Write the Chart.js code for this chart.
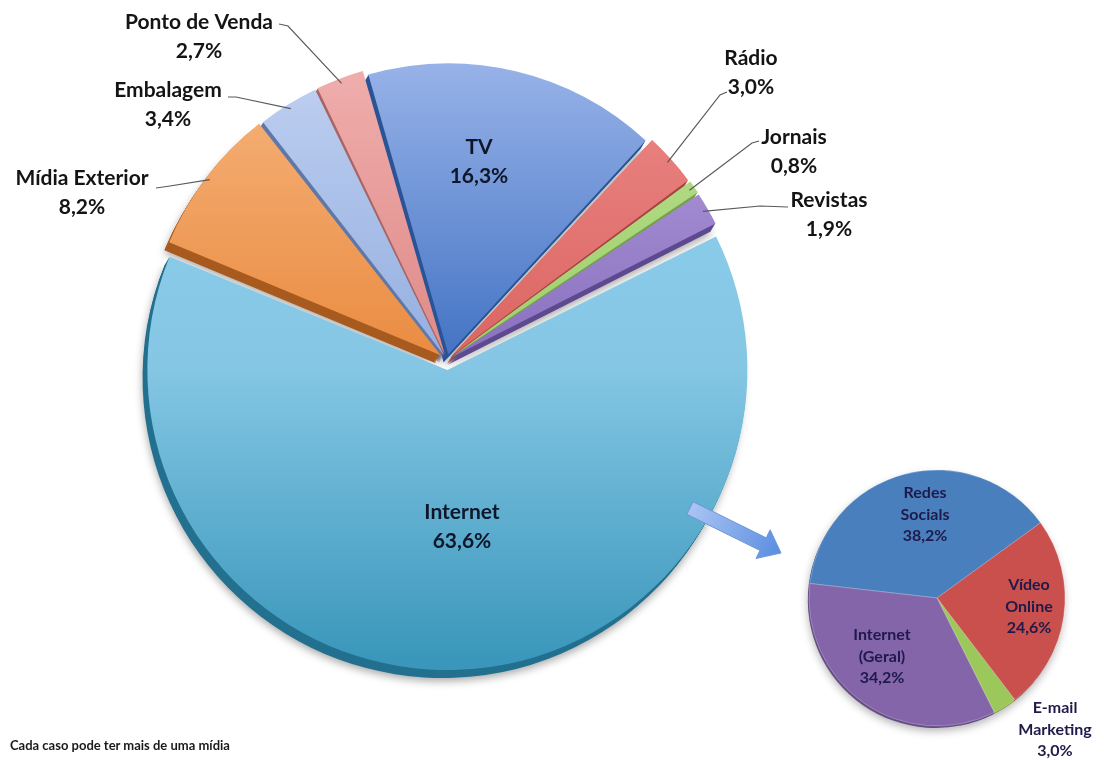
<!DOCTYPE html>
<html>
<head>
<meta charset="utf-8">
<script src="https://cdn.jsdelivr.net/npm/chart.js@4.4.0/dist/chart.umd.min.js"></script>
<style>
  body { margin: 0; background: #fff; }
  #wrap { position: relative; width: 1104px; height: 760px; overflow: hidden; background: #fff; }
  #mainChart { position: absolute; left: 0; top: 0; }
  #subChart { position: absolute; left: 780px; top: 440px; }
  #note { position: absolute; left: 10px; top: 737px; font: bold 13px Lato, sans-serif; color: #1a1a1a; }
</style>
</head>
<body>
<div id="wrap">
  <canvas id="mainChart" width="1104" height="760"></canvas>
  <canvas id="subChart" width="324" height="320"></canvas>
  <div id="note">Cada caso pode ter mais de uma mídia</div>
</div>
<script>
// data
const mainLabels = ["TV", "Rádio", "Jornais", "Revistas", "Internet", "Mídia Exterior", "Embalagem", "Ponto de Venda"];
const mainValues = [16.3, 3.0, 0.8, 1.9, 63.6, 8.2, 3.4, 2.7];
const netLabels = ["Redes Socials", "Vídeo Online", "E-mail Marketing", "Internet (Geral)"];
const netValues = [38.2, 24.6, 3.0, 34.2];

// look
const mainTop = ["#97b2e8", "#ec8987", "#b9e08f", "#b39fdc", "#8fd0ec", "#f6b47c", "#bfd0f1", "#efaeac"];
const mainMid = ["#4474c4", "#db6562", "#9fcf6c", "#8a70c0", "#84c6e4", "#ea8c42", "#95afe0", "#df8a88"];
const mainLow = ["#3f70c2", "#d65c59", "#9fcf6c", "#8066b8", "#3a97bb", "#e8853a", "#8ea9dc", "#d98280"];
const mainSide = ["#2b5496", "#a84441", "#77a04a", "#5f4a90", "#23708f", "#a85b1f", "#5f78a8", "#a86563"];
const mainOffsets = [24, 24, 24, 24, 40, 32, 24, 24];
const netColors = ["#4a7fbe", "#c9504d", "#9cc75a", "#8565aa"];
const netSide = ["#3a669c", "#9c3d3b", "#7a9e45", "#674e86"];

const R_MAIN = 290;
// label spots (first line centre); leader: [x0, y0, elbowX, elbowY]
const mainLabelAt = [[479, 147], [751, 58], [794, 137], [829, 200], [462, 512], [82, 178], [168, 90], [199, 22]];
const mainLeaders = [null, [727, 92, 720, 95], [759, 141, 752, 143], [788, 207, 760, 206], null,
                     [156, 188, 170, 186], [228, 97, 236, 97], [279, 24, 288, 26]];
// small pie labels, relative to its centre
const netLabelAt = [[-12, -105], [92, -13], [118, 110], [-55, 37]];

const pct = v => v.toFixed(1).replace(".", ",") + "%";

// draws the arcs again, pushed down-left and dark, to fake the 3D side
function drawSides(chart, sideColors, depth, shadow) {
    const ctx = chart.ctx;
    const arcs = chart.getDatasetMeta(0).data;
    for (let k = depth; k >= 1; k--) {
        arcs.forEach((arc, i) => {
            const ghost = Object.create(arc);
            ghost.options = Object.assign({}, arc.options, {backgroundColor: sideColors[i], borderWidth: 0});
            ctx.save();
            if (k === depth) {
                ctx.shadowColor = shadow;
                ctx.shadowBlur = 8;
                ctx.shadowOffsetY = 3;
            }
            ctx.translate(-k * 0.6, k);
            ghost.draw(ctx);
            ctx.restore();
        });
    }
}

const mainDeco = {
    id: "mainDeco",
    beforeDatasetsDraw(chart) {
        drawSides(chart, mainSide, 8, "rgba(0,0,0,0.35)");
    },
    afterDatasetsDraw(chart) {
        const ctx = chart.ctx;
        const arcs = chart.getDatasetMeta(0).data;
        ctx.save();
        ctx.strokeStyle = "#5a5a5a";
        ctx.lineWidth = 1.2;
        arcs.forEach((arc, i) => {
            const lead = mainLeaders[i];
            if (!lead) return;
            const mid = (arc.startAngle + arc.endAngle) / 2;
            const r = arc.options.offset / 4 + arc.outerRadius;
            ctx.beginPath();
            ctx.moveTo(lead[0], lead[1]);
            ctx.lineTo(lead[2], lead[3]);
            ctx.lineTo(arc.x + Math.cos(mid) * r, arc.y + Math.sin(mid) * r);
            ctx.stroke();
        });
        ctx.font = "bold 21px Lato";
        ctx.textAlign = "center";
        ctx.textBaseline = "middle";
        arcs.forEach((arc, i) => {
            const [lx, ly] = mainLabelAt[i];
            ctx.fillStyle = (i === 0 || i === 4) ? "#10162a" : "#141414";
            ctx.fillText(mainLabels[i], lx, ly);
            ctx.fillText(pct(mainValues[i]), lx, ly + 29);
        });

        // arrow towards the Internet breakdown
        const sx = 690, sy = 508, tx = 781, ty = 553;
        const len = Math.hypot(tx - sx, ty - sy);
        const ux = (tx - sx) / len, uy = (ty - sy) / len;
        const nx = -uy, ny = ux;
        const bx = tx - ux * 20, by = ty - uy * 20;
        const g = ctx.createLinearGradient(sx, sy, tx, ty);
        g.addColorStop(0, "#aac4f3");
        g.addColorStop(1, "#5a8ee0");
        ctx.beginPath();
        ctx.moveTo(sx + nx * 7, sy + ny * 7);
        ctx.lineTo(bx + nx * 7, by + ny * 7);
        ctx.lineTo(bx + nx * 16, by + ny * 16);
        ctx.lineTo(tx, ty);
        ctx.lineTo(bx - nx * 16, by - ny * 16);
        ctx.lineTo(bx - nx * 7, by - ny * 7);
        ctx.lineTo(sx - nx * 7, sy - ny * 7);
        ctx.closePath();
        ctx.fillStyle = g;
        ctx.fill();
        ctx.strokeStyle = "#6f96da";
        ctx.lineWidth = 1;
        ctx.stroke();
        ctx.restore();
    }
};

const netDeco = {
    id: "netDeco",
    beforeDatasetsDraw(chart) {
        drawSides(chart, netSide, 2, "rgba(0,0,0,0.3)");
    },
    afterDatasetsDraw(chart) {
        const ctx = chart.ctx;
        const arc0 = chart.getDatasetMeta(0).data[0];
        ctx.save();
        ctx.font = "bold 16px Lato";
        ctx.fillStyle = "#1e1a4a";
        ctx.textAlign = "center";
        ctx.textBaseline = "middle";
        netLabels.forEach((name, i) => {
            const lines = name.split(" ").concat(pct(netValues[i]));
            const [dx, dy] = netLabelAt[i];
            lines.forEach((t, k) => ctx.fillText(t, arc0.x + dx, arc0.y + dy + k * 21.5));
        });
        ctx.restore();
    }
};

new Chart(document.getElementById("mainChart"), {
    type: "pie",
    data: {
        labels: mainLabels,
        datasets: [{
            data: mainValues,
            backgroundColor(c) {
                const i = c.dataIndex;
                const area = c.chart.chartArea;
                if (!area) return mainMid[i];
                const cy = (area.top + area.bottom) / 2;
                const g = c.chart.ctx.createLinearGradient(0, cy - R_MAIN, 0, cy + R_MAIN);
                g.addColorStop(0, mainTop[i]);
                g.addColorStop(0.5, mainMid[i]);
                g.addColorStop(1, mainLow[i]);
                return g;
            },
            borderWidth: 0,
            offset: mainOffsets
        }]
    },
    options: {
        responsive: false,
        animation: false,
        rotation: -16,
        radius: R_MAIN,
        layout: { padding: { left: 0, right: 210, top: 0, bottom: 40 } },
        plugins: { legend: { display: false }, tooltip: { enabled: false } }
    },
    plugins: [mainDeco]
});

new Chart(document.getElementById("subChart"), {
    type: "pie",
    data: {
        labels: netLabels,
        datasets: [{
            data: netValues,
            backgroundColor: netColors,
            borderColor: "rgba(255,255,255,0.25)",
            borderWidth: 1
        }]
    },
    options: {
        responsive: false,
        animation: false,
        rotation: -83.5,
        radius: 128,
        layout: { padding: { left: 0, right: 10, top: 0, bottom: 4 } },
        plugins: { legend: { display: false }, tooltip: { enabled: false } }
    },
    plugins: [netDeco]
});
</script>
</body>
</html>
